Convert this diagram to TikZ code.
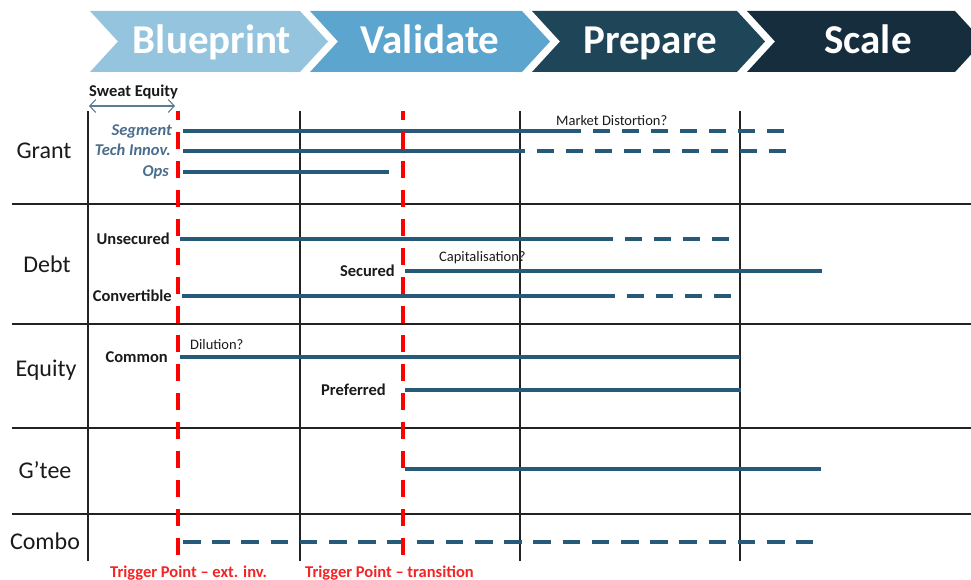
\documentclass[tikz,border=0pt]{standalone}
\usepackage{fontspec}
\setmainfont{Carlito}
\usetikzlibrary{arrows.meta}
\definecolor{blueprintfill}{HTML}{94C4DE}
\definecolor{validatefill}{HTML}{5BA5CE}
\definecolor{preparefill}{HTML}{1F4559}
\definecolor{scalefill}{HTML}{152D3C}
\definecolor{barblue}{HTML}{265A78}
\definecolor{labelblue}{HTML}{4A6D8C}
\definecolor{textdark}{HTML}{1A1A1A}
\definecolor{gridgray}{HTML}{222222}
\definecolor{arrowgrey}{HTML}{5C7C92}
\definecolor{triggerred}{HTML}{F42424}
\begin{document}
\begin{tikzpicture}[x=1pt,y=-1pt,
  chevtext/.style={text=white,font=\fontsize{41}{44}\selectfont\bfseries,anchor=base,inner sep=0pt},
  rowlabel/.style={font=\fontsize{24}{26}\selectfont,text=textdark,anchor=base,inner sep=0pt},
  sublabel/.style={font=\fontsize{16.5}{18}\selectfont\bfseries,text=textdark,anchor=base east,inner sep=0pt},
  grantlabel/.style={font=\fontsize{16.5}{18}\selectfont\bfseries\itshape,text=labelblue,anchor=base east,inner sep=0pt},
  annot/.style={font=\fontsize{14.5}{16}\selectfont,text=textdark,anchor=base west,inner sep=0pt},
  trigtext/.style={font=\fontsize{16.5}{18}\selectfont\bfseries,text=triggerred,anchor=base west,inner sep=0pt},
  gridrule/.style={line width=1.2pt,draw=gridgray},
  fundbar/.style={line width=4.6pt,draw=barblue},
  dashbar/.style={fundbar,dash pattern=on 17pt off 12pt},
  trigline/.style={line width=4.6pt,draw=red,dash pattern=on 17pt off 12pt,dash phase=8pt},
  spanarrow/.style={line width=1.1pt,draw=arrowgrey,
    {Straight Barb[length=6pt,width=13pt]}-{Straight Barb[length=6pt,width=13pt]}},
]
\useasboundingbox (0,0) rectangle (971,580);

% ---- phase chevrons ----
\def\chevron#1#2#3{%
  \fill[#3] (#1,11) -- (#2,11) -- (#2+28,41.5) -- (#2,72) -- (#1,72) -- (#1+28,41.5) -- cycle;}
\fill[blueprintfill] (90,11) -- (300,11) -- (328,41.5) -- (300,72) -- (90,72) -- (118,41.5) -- cycle;
\chevron{310}{522}{validatefill}
\chevron{532}{737}{preparefill}
\chevron{747}{955}{scalefill}
\node[chevtext] (ph1) at (212,54) {Blueprint};
\node[chevtext] (ph2) at (430,54) {Validate};
\node[chevtext] (ph3) at (650,54) {Prepare};
\node[chevtext] (ph4) at (868,54) {Scale};

% ---- table rules ----
\foreach \yy [count=\i] in {204,324,428,514} {
  \coordinate (hl\i) at (12,\yy); \coordinate (hr\i) at (971,\yy);
  \draw[gridrule] (hl\i) -- (hr\i);
}
\foreach \xx [count=\i] in {88,300,520,740} {
  \coordinate (vt\i) at (\xx,111); \coordinate (vb\i) at (\xx,561);
  \draw[gridrule] (vt\i) -- (vb\i);
}

% ---- sweat equity span ----
\node[annot,font=\fontsize{16.5}{18}\selectfont\bfseries] (sweat) at (89,96.5) {Sweat Equity};
\coordinate (sw1) at (89,106);
\coordinate (sw2) at (175,106);
\draw[spanarrow] (sw1) -- (sw2);

% ---- row labels ----
\node[rowlabel] (grant) at (44,158.5) {Grant};
\node[rowlabel] (debt) at (47,272) {Debt};
\node[rowlabel] (equity) at (46,376) {Equity};
\node[rowlabel] (gtee) at (45,478.5) {G’tee};
\node[rowlabel] (combo) at (45,549) {Combo};

% ---- Grant ----
\node[grantlabel] (segment) at (172,135.5) {Segment};
\node[grantlabel] (tech) at (171,155.5) {Tech Innov.};
\node[grantlabel] (ops) at (169,176.5) {Ops};
\coordinate (seg0) at (183,131); \coordinate (seg1) at (581,131);
\coordinate (seg2) at (593,131); \coordinate (seg3) at (785,131);
\draw[fundbar] (seg0) -- (seg1);
\draw[dashbar] (seg2) -- (seg3);
\coordinate (tec0) at (183,151); \coordinate (tec1) at (525,151);
\coordinate (tec2) at (537,151); \coordinate (tec3) at (787,151);
\draw[fundbar] (tec0) -- (tec1);
\draw[dashbar] (tec2) -- (tec3);
\coordinate (ops0) at (183,172); \coordinate (ops1) at (389,172);
\draw[fundbar] (ops0) -- (ops1);
\node[annot] (market) at (556,126) {Market Distortion?};

% ---- Debt ----
\node[sublabel] (unsec) at (170,244.5) {Unsecured};
\node[sublabel] (sec) at (395,276) {Secured};
\node[sublabel] (conv) at (172,301.5) {Convertible};
\coordinate (uns0) at (180,239); \coordinate (uns1) at (597,239);
\coordinate (uns2) at (596,239); \coordinate (uns3) at (729,239);
\draw[fundbar] (uns0) -- (uns1);
\draw[dashbar] (uns2) -- (uns3);
\coordinate (sec0) at (405,271); \coordinate (sec1) at (822,271);
\draw[fundbar] (sec0) -- (sec1);
\coordinate (cnv0) at (182,296); \coordinate (cnv1) at (598,296);
\coordinate (cnv2) at (598,296); \coordinate (cnv3) at (731,296);
\draw[fundbar] (cnv0) -- (cnv1);
\draw[dashbar] (cnv2) -- (cnv3);
\node[annot] (capit) at (439,261.5) {Capitalisation?};

% ---- Equity ----
\node[sublabel] (common) at (168,362) {Common};
\node[sublabel] (pref) at (386,395.5) {Preferred};
\coordinate (com0) at (180,357); \coordinate (com1) at (740,357);
\draw[fundbar] (com0) -- (com1);
\coordinate (prf0) at (405,390); \coordinate (prf1) at (741,390);
\draw[fundbar] (prf0) -- (prf1);
\node[annot] (dilution) at (190,349.5) {Dilution?};

% ---- Guarantee ----
\coordinate (gte0) at (405,469); \coordinate (gte1) at (821,469);
\draw[fundbar] (gte0) -- (gte1);

% ---- Combo ----
\coordinate (cmb0) at (183,542); \coordinate (cmb1) at (813,542);
\draw[fundbar,dash pattern=on 17.5pt off 11.7pt] (cmb0) -- (cmb1);

% ---- trigger points ----
\coordinate (tr1a) at (178,111); \coordinate (tr1b) at (178,558);
\coordinate (tr2a) at (403,111); \coordinate (tr2b) at (403,558);
\draw[trigline] (tr1a) -- (tr1b);
\draw[trigline] (tr2a) -- (tr2b);
\node[trigtext] (trig1) at (110,577) {Trigger Point – ext. inv.};
\node[trigtext] (trig2) at (305,577) {Trigger Point – transition};
\end{tikzpicture}
\end{document}
